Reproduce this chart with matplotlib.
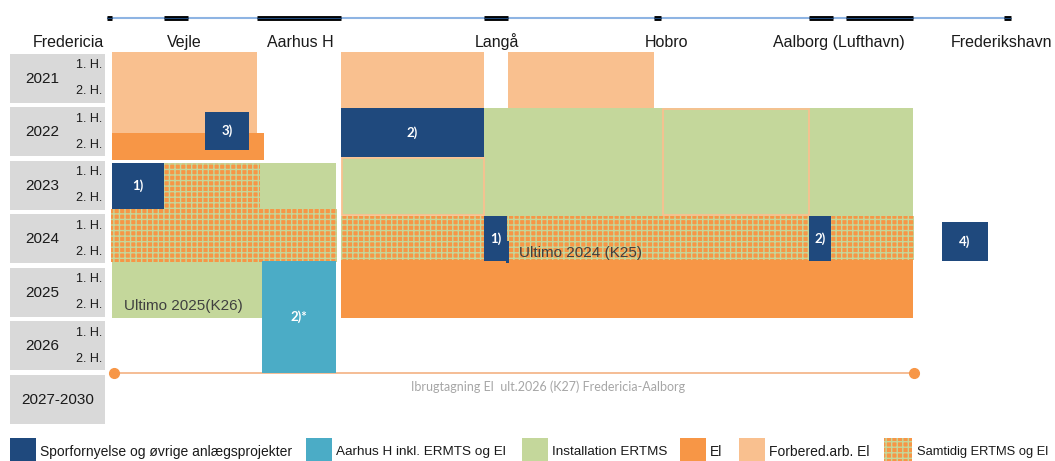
import matplotlib.pyplot as plt
from matplotlib.patches import Rectangle

plt.rcParams['font.family'] = ['Liberation Sans', 'DejaVu Sans']
plt.rcParams['hatch.linewidth'] = 1.0

# colours
c_spor = '#1F497D'
c_aarhus = '#4BACC6'
c_ertms = '#C4D79B'
c_el = '#F79646'
c_forb = '#F9C08F'

# stations along the line (label x position)
stations = ["Fredericia", "Vejle", "Aarhus H", "Langå", "Hobro", "Aalborg (Lufthavn)", "Frederikshavn"]
station_x = [104, 184, 300, 497, 666, 839, 1002]
station_ha = ['right', 'center', 'center', 'center', 'center', 'center', 'center']

# double track sections on the line sketch at the top
line_start, line_end = 108, 1008
track_sections = [(107, 112), (164, 188), (257, 341), (484, 508), (654, 661),
                  (809, 833), (846, 913), (1004, 1011)]

# rows (time in years from start of 2021)
years = ["2021", "2022", "2023", "2024", "2025", "2026", "2027-2030"]

# work blocks: (x start, x end, t start, t end)
forbered = [(112, 257, 0.00, 1.51), (341, 484, 0.00, 1.05), (508, 654, 0.00, 1.05)]
el = [(112, 264, 1.51, 2.02), (341, 913, 3.89, 4.97)]
ertms = [(484, 913, 1.05, 3.07), (260, 336, 2.07, 2.93), (112, 262, 3.91, 4.97)]
ertms_outlined = [(341, 485, 1.96, 3.07), (662, 810, 1.05, 3.07)]
samtidig = [(164, 260, 2.07, 2.93), (111, 337, 2.93, 3.93), (341, 914, 3.07, 3.89)]
aarhus = [(262, 336, 3.91, 6.00, "2)*")]
spor = [(205, 249, 1.12, 1.83, "3)"), (341, 484, 1.05, 1.96, "2)"),
        (112, 164, 2.07, 2.93, "1)"), (484, 507, 3.07, 3.91, "1)"),
        (506, 509, 3.53, 3.94, ""), (809, 831, 3.07, 3.91, "2)"),
        (942, 988, 3.18, 3.91, "4)")]

# commissioning line
ibrug_x = [114, 914]
ibrug_t = 6.0

legend_labels = ["Sporfornyelse og øvrige anlægsprojekter", "Aarhus H inkl. ERMTS og El",
                 "Installation ERTMS", "El", "Forbered.arb. El", "Samtidig ERTMS og El"]
legend_x = [10, 306, 522, 680, 739, 884]
legend_size = [10, 9.7, 9.7, 10, 10, 9.3]

fig = plt.figure(figsize=(10.55, 4.61), dpi=100)
ax = fig.add_axes([0, 0, 1, 1])
ax.set_xlim(0, 1055)
ax.set_ylim(7.645, -0.972)
ax.axis('off')


def block(x0, x1, t0, t1, color, hatch=None, edge=None, lw=0, z=2):
    if hatch:
        r = Rectangle((x0, t0), x1 - x0, t1 - t0, facecolor=color, edgecolor=c_ertms,
                      hatch=hatch, linewidth=0, zorder=z)
    else:
        r = Rectangle((x0, t0), x1 - x0, t1 - t0, facecolor=color,
                      edgecolor=edge if edge else 'none', linewidth=lw, zorder=z)
    ax.add_patch(r)


# line sketch
ax.plot([line_start, line_end], [-0.636, -0.636], color='#8EB4E3', lw=1.5, zorder=2)
for a, b in track_sections:
    ax.plot([a, b], [-0.636, -0.636], color='black', lw=3.5, solid_capstyle='butt', zorder=3)
    ax.plot([a, b], [-0.636, -0.636], color=c_spor, lw=0.8, solid_capstyle='butt', zorder=4)

for name, x, ha in zip(stations, station_x, station_ha):
    ax.text(x, -0.1, name, ha=ha, va='baseline', fontsize=11.5, color='#1a1a1a')

# year rows
for i, y in enumerate(years):
    ax.add_patch(Rectangle((10, i + 0.03), 95, 0.92, facecolor='#D9D9D9', edgecolor='none'))
    if y == "2027-2030":
        ax.text(58, i + 0.5, y, ha='center', va='center', fontsize=11, color='#1a1a1a')
    else:
        ax.text(42, i + 0.5, y, ha='center', va='center', fontsize=11, color='#1a1a1a')
        ax.text(102, i + 0.25, "1. H.", ha='right', va='center', fontsize=9, color='#1a1a1a')
        ax.text(102, i + 0.73, "2. H.", ha='right', va='center', fontsize=9, color='#1a1a1a')

# blocks
for b in forbered:
    block(*b, c_forb)
for b in el[:1]:
    block(*b, c_el)
for b in ertms:
    block(*b, c_ertms)
for b in ertms_outlined:
    block(b[0] + 1, b[1] - 1, b[2] + 0.02, b[3] - 0.02, c_ertms, edge=c_forb, lw=1.3, z=2.5)
for b in samtidig:
    block(*b, c_el, hatch='+++', z=3)
for b in el[1:]:
    block(*b, c_el, z=3)
for x0, x1, t0, t1, lab in aarhus:
    block(x0, x1, t0, t1, c_aarhus, z=4)
    ax.text((x0 + x1) / 2, (t0 + t1) / 2, lab, ha='center', va='center', color='white',
            fontsize=9.5, fontweight='bold', family='Lato', zorder=5)
for x0, x1, t0, t1, lab in spor:
    block(x0, x1, t0, t1, c_spor, z=4)
    if lab:
        ax.text((x0 + x1) / 2, (t0 + t1) / 2, lab, ha='center', va='center', color='white',
                fontsize=9.5, fontweight='bold', family='Lato', zorder=5)

ax.text(124, 4.75, "Ultimo 2025(K26)", ha='left', va='center', fontsize=11, color='#404040', zorder=5)
ax.text(519, 3.76, "Ultimo 2024 (K25)", ha='left', va='center', fontsize=11, color='#404040', zorder=5)

# commissioning
ax.plot(ibrug_x, [ibrug_t, ibrug_t], color='#F4B183', lw=1.2, zorder=3)
ax.plot(ibrug_x, [ibrug_t, ibrug_t], 'o', color=c_el, markersize=7, zorder=4)
ax.text(548, 6.26, "Ibrugtagning El  ult.2026 (K27) Fredericia-Aalborg", ha='center', va='center',
        fontsize=9, color='#A6A6A6', family='Lato')

# legend
legend_colors = [c_spor, c_aarhus, c_ertms, c_el, c_forb, c_el]
for i, (lab, x, col, fs) in enumerate(zip(legend_labels, legend_x, legend_colors, legend_size)):
    if i == 5:
        block(x, x + 28, 7.215, 7.645, col, hatch='+++')
    else:
        block(x, x + 26, 7.215, 7.645, col)
    ax.text(x + 30 + (3 if i == 5 else 0), 7.48, lab, ha='left', va='center', fontsize=fs, color='#1a1a1a')

fig.savefig('out.png', dpi=100)
